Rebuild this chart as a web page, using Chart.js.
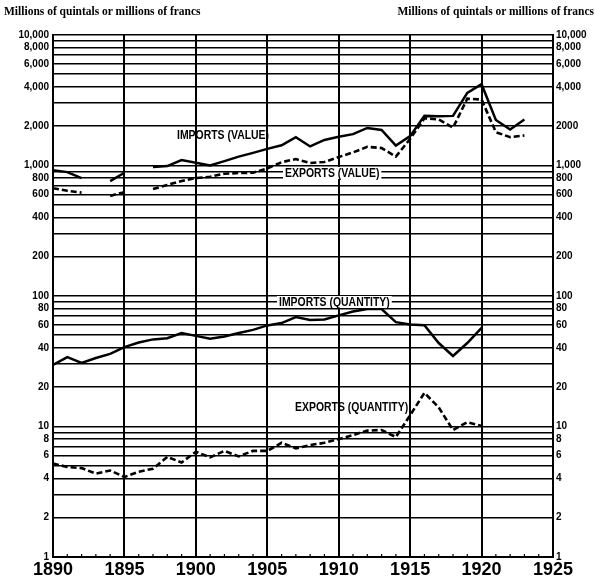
<!DOCTYPE html>
<html><head><meta charset="utf-8">
<script src="https://cdn.jsdelivr.net/npm/chart.js@4/dist/chart.umd.min.js"></script>
<style>
html,body{margin:0;padding:0;background:#fff;}
#wrap{position:relative;width:596px;height:580px;overflow:hidden;}
canvas{position:absolute;left:0;top:0;}
.hdr{position:absolute;top:5px;font:bold 11.5px "Liberation Serif",serif;color:#000;white-space:nowrap;}
</style></head><body>
<div id="wrap">
<canvas id="c" width="596" height="580"></canvas>
<div class="hdr" style="left:4px">Millions of quintals or millions of francs</div>
<div class="hdr" style="right:2px">Millions of quintals or millions of francs</div>
</div>
<script>
// ---- data ----
const years = [1890,1891,1892,1893,1894,1895,1896,1897,1898,1899,1900,1901,1902,1903,1904,1905,1906,1907,1908,1909,1910,1911,1912,1913,1914,1915,1916,1917,1918,1919,1920,1921,1922,1923];
const importsValue = [920,890,800,null,760,880,null,975,990,1100,1050,1000,1080,1170,1250,1340,1430,1650,1400,1570,1660,1740,1940,1870,1420,1680,2400,2380,2400,3600,4200,2230,1890,2250];
const exportsValue = [670,640,620,null,585,625,null,660,710,760,800,820,865,876,880,950,1060,1120,1045,1065,1160,1260,1390,1360,1170,1600,2300,2250,1950,3250,3200,1800,1650,1700];
const importsQuantity = [29.6,34,30.7,33.5,36,40.6,44,46.5,47.5,52,49.5,47,49,52,55,59.5,62,69,65.5,66,71,76,79.4,79.4,63,60.5,59.8,43.6,34.7,43.6,57,null,null,null];
const exportsQuantity = [5.2,4.9,4.8,4.35,4.6,4.1,4.5,4.75,5.85,5.3,6.4,5.8,6.5,5.9,6.5,6.5,7.5,6.8,7.2,7.5,8.0,8.6,9.3,9.4,8.3,12.2,18.1,14,9.4,10.8,10.1,null,null,null];
const xTickYears = [1890,1895,1900,1905,1910,1915,1920,1925];
const leftTickLabels = {1:'1',2:'2',4:'4',6:'6',8:'8',10:'10',20:'20',40:'40',60:'60',80:'80',100:'100',200:'200',400:'400',600:'600',800:'800',1000:'1,000',2000:'2,000',4000:'4,000',6000:'6,000',8000:'8,000',10000:'10,000'};
const rightTickLabels = {1:'1',2:'2',4:'4',6:'6',8:'8',10:'10',20:'20',40:'40',60:'60',80:'80',100:'100',200:'200',400:'400',600:'600',800:'800',1000:'1,000',2000:'2000',4000:'4,000',6000:'6,000',8000:'8,000',10000:'10,000'};
const seriesLabels = [
  {text:'IMPORTS (VALUE)', year:1898.68, value:1714, bg:false},
  {text:'EXPORTS (VALUE)', year:1906.24, value:876, bg:true},
  {text:'IMPORTS (QUANTITY)', year:1905.82, value:90, bg:true},
  {text:'EXPORTS (QUANTITY)', year:1906.94, value:14.1, bg:false}
];

// gridline values: every integer multiple in each decade
const gridVals = [];
for (let k=0;k<4;k++) for (let m=1;m<10;m++) gridVals.push(m*Math.pow(10,k));
gridVals.push(10000);

const toPoints = arr => years.map((y,i)=>({x:y, y:arr[i]}));

const labelPlugin = {
  id:'labels',
  afterDatasetsDraw(chart){
    const ctx = chart.ctx, xs = chart.scales.x, ys = chart.scales.y;
    ctx.save();
    ctx.font = 'bold 12px "Liberation Sans Narrow", "Arial Narrow", sans-serif';
    ctx.textBaseline = 'middle';
    ctx.textAlign = 'left';
    const sx = 0.87;
    seriesLabels.forEach(l=>{
      const px = xs.getPixelForValue(l.year), py = ys.getPixelForValue(l.value);
      const w = ctx.measureText(l.text).width*sx;
      if (l.bg){ ctx.fillStyle='#fff'; ctx.fillRect(px-2, py-6, w+4, 12); }
      ctx.save();
      ctx.translate(px, py+0.5);
      ctx.scale(sx, 1);
      ctx.fillStyle='#000';
      ctx.fillText(l.text, 0, 0);
      ctx.restore();
    });
    // minor year ticks along the bottom
    ctx.strokeStyle='#000'; ctx.lineWidth=1.2;
    const bottom = chart.chartArea.bottom;
    for (let yr=1891; yr<1925; yr++){
      if (yr%5===0) continue;
      const px = xs.getPixelForValue(yr);
      ctx.beginPath(); ctx.moveTo(px,bottom); ctx.lineTo(px,bottom-3); ctx.stroke();
    }
    ctx.restore();
  }
};

const tickFont = {family:'"Liberation Sans", Arial, sans-serif', size:10, weight:'bold'};

new Chart(document.getElementById('c'), {
  type:'line',
  data:{
    datasets:[
      {label:'Imports (value)', data:toPoints(importsValue), borderColor:'#000', borderWidth:2.5, pointRadius:0, spanGaps:false, tension:0},
      {label:'Exports (value)', data:toPoints(exportsValue), borderColor:'#000', borderWidth:2.6, borderDash:[6,3], pointRadius:0, spanGaps:false, tension:0},
      {label:'Imports (quantity)', data:toPoints(importsQuantity), borderColor:'#000', borderWidth:2.5, pointRadius:0, spanGaps:false, tension:0},
      {label:'Exports (quantity)', data:toPoints(exportsQuantity), borderColor:'#000', borderWidth:2.6, borderDash:[6,3], pointRadius:0, spanGaps:false, tension:0}
    ]
  },
  options:{
    responsive:false, animation:false, devicePixelRatio:1,
    layout:{padding:{top:35,left:0,right:0,bottom:0}},
    plugins:{legend:{display:false}, tooltip:{enabled:false}},
    scales:{
      x:{
        type:'linear', min:1890, max:1925,
        afterBuildTicks:s=>{ s.ticks = xTickYears.map(v=>({value:v})); },
        afterFit:s=>{ s.height = 23; },
        grid:{color:'#000', lineWidth:2, drawTicks:false},
        border:{display:true, color:'#000', width:2},
        ticks:{autoSkip:false, maxRotation:0, padding:2, color:'#000',
          font:{family:'"Liberation Sans Narrow", "Arial Narrow", sans-serif', size:18, weight:'bold'},
          callback:v=>String(v)}
      },
      y:{
        type:'logarithmic', position:'left', min:1, max:10000,
        afterBuildTicks:s=>{ s.ticks = gridVals.map(v=>({value:v})); },
        afterFit:s=>{ s.width = 53; },
        grid:{color:'#000', lineWidth:1.6, drawTicks:false},
        border:{display:true, color:'#000', width:2},
        ticks:{autoSkip:false, padding:4, color:'#000', font:tickFont,
          callback:v=>leftTickLabels[v]||''}
      },
      y2:{
        type:'logarithmic', position:'right', min:1, max:10000,
        afterBuildTicks:s=>{ s.ticks = gridVals.map(v=>({value:v})); },
        afterFit:s=>{ s.width = 43; },
        grid:{display:false, drawTicks:false},
        border:{display:true, color:'#000', width:2},
        ticks:{autoSkip:false, padding:3, color:'#000', font:tickFont,
          callback:v=>rightTickLabels[v]||''}
      }
    }
  },
  plugins:[labelPlugin]
});
</script>
</body></html>
